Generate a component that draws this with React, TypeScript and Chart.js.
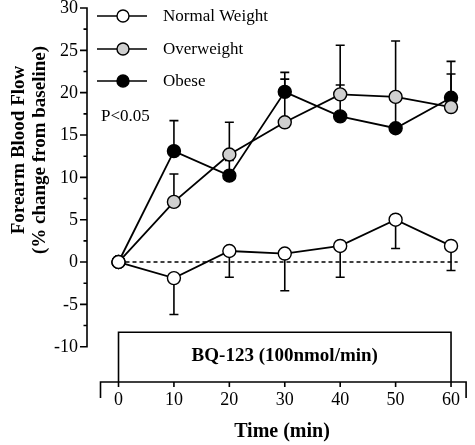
import React, { useEffect, useRef } from "react";
import { Chart, registerables } from "chart.js";

Chart.register(...registerables);

// ---- data ----
const times = [0, 10, 20, 30, 40, 50, 60];
const normalWeight = [0, -1.9, 1.3, 1.0, 1.9, 5.0, 1.9];
const normalErr = [0, 4.3, 3.1, 4.4, 3.7, 3.4, 2.9]; // drawn downward
const overweight = [0, 7.1, 12.7, 16.5, 19.8, 19.5, 18.3];
const overweightErr = [0, 3.3, 3.8, 5.1, 5.8, 6.6, 3.9]; // drawn upward
const obese = [0, 13.1, 10.2, 20.1, 17.2, 15.8, 19.4];
const obeseErr = [0, 3.6, 1.8, 2.3, 3.7, 3.2, 4.3]; // drawn upward
const seriesNames = ["Normal Weight", "Overweight", "Obese"];
const yTicks = [-10, -5, 0, 5, 10, 15, 20, 25, 30];
const xTicks = [0, 10, 20, 30, 40, 50, 60];
const boxLabel = "BQ-123 (100nmol/min)";
const boxStart = 0;
const boxEnd = 60;
const boxTop = -8.3;
const pText = "P<0.05";
const xTitle = "Time (min)";
const yTitle1 = "Forearm Blood Flow";
const yTitle2 = "(% change from baseline)";

const SERIF = "'Liberation Serif', 'Times New Roman', serif";

export default function App() {
  const ref = useRef<HTMLCanvasElement | null>(null);

  useEffect(() => {
    if (!ref.current) return;
    const errs = [normalErr, overweightErr, obeseErr];
    const dirs = [-1, 1, 1];
    const vals = [normalWeight, overweight, obese];

    const decor = {
      id: "decor",
      beforeDatasetsDraw(chart: any) {
        const ctx = chart.ctx;
        const xs = chart.scales.x;
        const ys = chart.scales.y;
        const X = (v: number) => xs.getPixelForValue(v);
        const Y = (v: number) => ys.getPixelForValue(v);
        ctx.save();
        // zero dashed line
        ctx.strokeStyle = "#000";
        ctx.lineWidth = 1.4;
        ctx.setLineDash([4, 3]);
        ctx.beginPath();
        ctx.moveTo(X(0), Y(0));
        ctx.lineTo(X(61.2), Y(0));
        ctx.stroke();
        ctx.setLineDash([]);
        // error bars
        ctx.lineWidth = 1.6;
        for (let s = 0; s < 3; s++) {
          for (let i = 0; i < times.length; i++) {
            const e = errs[s][i];
            if (!e) continue;
            const x = X(times[i]);
            const y0 = Y(vals[s][i]);
            const y1 = Y(vals[s][i] + dirs[s] * e);
            ctx.beginPath();
            ctx.moveTo(x, y0);
            ctx.lineTo(x, y1);
            ctx.moveTo(x - 4.5, y1);
            ctx.lineTo(x + 4.5, y1);
            ctx.stroke();
          }
        }
        ctx.restore();
      },
      afterDraw(chart: any) {
        const ctx = chart.ctx;
        const ca = chart.chartArea;
        const xs = chart.scales.x;
        const ys = chart.scales.y;
        const X = (v: number) => xs.getPixelForValue(v);
        const Y = (v: number) => ys.getPixelForValue(v);
        ctx.save();
        ctx.strokeStyle = "#000";
        ctx.fillStyle = "#000";
        ctx.lineWidth = 1.6;
        // y axis
        const ax = ca.left;
        ctx.beginPath();
        ctx.moveTo(ax, Y(yTicks[yTicks.length - 1]) - 0.8);
        ctx.lineTo(ax, Y(yTicks[0]) + 0.8);
        for (const t of yTicks) {
          ctx.moveTo(ax - 7, Y(t));
          ctx.lineTo(ax, Y(t));
        }
        for (let i = 0; i < yTicks.length - 1; i++) {
          const m = (yTicks[i] + yTicks[i + 1]) / 2;
          ctx.moveTo(ax - 3.5, Y(m));
          ctx.lineTo(ax, Y(m));
        }
        ctx.stroke();
        ctx.font = `18px ${SERIF}`;
        ctx.textAlign = "right";
        ctx.textBaseline = "middle";
        for (const t of yTicks) ctx.fillText(String(t), ax - 9, Y(t) + 0.5);

        // x axis
        const by = ca.bottom;
        const xl = X(-3.25);
        const xr = ca.right - 1;
        ctx.beginPath();
        ctx.moveTo(xl, by + 16);
        ctx.lineTo(xl, by);
        ctx.lineTo(xr, by);
        ctx.lineTo(xr, by + 16);
        for (const t of xTicks) {
          ctx.moveTo(X(t), by);
          ctx.lineTo(X(t), by + 5);
        }
        ctx.stroke();
        ctx.textAlign = "center";
        ctx.font = `18px ${SERIF}`;
        for (const t of xTicks) ctx.fillText(String(t), X(t), by + 18);

        // treatment box
        ctx.beginPath();
        ctx.moveTo(X(boxStart), by);
        ctx.lineTo(X(boxStart), Y(boxTop));
        ctx.lineTo(X(boxEnd), Y(boxTop));
        ctx.lineTo(X(boxEnd), by);
        ctx.stroke();
        ctx.font = `bold 19px ${SERIF}`;
        ctx.fillText(boxLabel, X((boxStart + boxEnd) / 2), (Y(boxTop) + by) / 2 - 1);

        // axis titles
        ctx.font = `bold 20px ${SERIF}`;
        ctx.fillText(xTitle, 282, 432);
        ctx.font = `bold 19px ${SERIF}`;
        ctx.save();
        ctx.translate(19, 150);
        ctx.rotate(-Math.PI / 2);
        ctx.fillText(yTitle1, 0, 0);
        ctx.restore();
        ctx.save();
        ctx.translate(40, 150);
        ctx.rotate(-Math.PI / 2);
        ctx.fillText(yTitle2, 0, 0);
        ctx.restore();

        // P value
        ctx.font = `17px ${SERIF}`;
        ctx.textAlign = "left";
        ctx.fillText(pText, 101, 117);

        // legend
        const ly = [16, 49, 81];
        chart.data.datasets.forEach((ds: any, i: number) => {
          const y = ly[i];
          ctx.lineWidth = 1.6;
          ctx.beginPath();
          ctx.moveTo(97, y);
          ctx.lineTo(147, y);
          ctx.stroke();
          ctx.beginPath();
          ctx.arc(123, y, 6, 0, Math.PI * 2);
          ctx.fillStyle = ds.pointBackgroundColor;
          ctx.fill();
          ctx.lineWidth = 1.4;
          ctx.stroke();
          ctx.fillStyle = "#000";
          ctx.font = `17px ${SERIF}`;
          ctx.textAlign = "left";
          ctx.fillText(ds.label, 163, y + 0.5);
        });
        ctx.restore();
      },
    };

    const mk = (label: string, data: number[], fill: string) => ({
      label,
      data: data.map((v, i) => ({ x: times[i], y: v })),
      borderColor: "#000",
      borderWidth: 1.8,
      pointBackgroundColor: fill,
      pointBorderColor: "#000",
      pointBorderWidth: 1.4,
      pointRadius: 6.5,
      fill: false,
      tension: 0,
      clip: false as any,
    });

    const chart = new Chart(ref.current, {
      type: "line",
      data: {
        datasets: [
          mk(seriesNames[0], normalWeight, "#ffffff"),
          mk(seriesNames[1], overweight, "#cfcfcf"),
          mk(seriesNames[2], obese, "#000000"),
        ],
      },
      options: {
        responsive: false,
        animation: false,
        devicePixelRatio: 1,
        layout: { padding: { left: 87, right: 2, top: 8, bottom: 63 } },
        plugins: { legend: { display: false }, tooltip: { enabled: false } },
        scales: {
          x: { type: "linear", min: -5.686, max: 62.9, display: false },
          y: { type: "linear", min: -14.17, max: 30, display: false },
        },
      },
      plugins: [decor],
    });
    return () => chart.destroy();
  }, []);

  return (
    <div style={{ position: "absolute", left: 0, top: 0, width: 475, height: 445, background: "#fff" }}>
      <canvas ref={ref} width={475} height={445} />
    </div>
  );
}
